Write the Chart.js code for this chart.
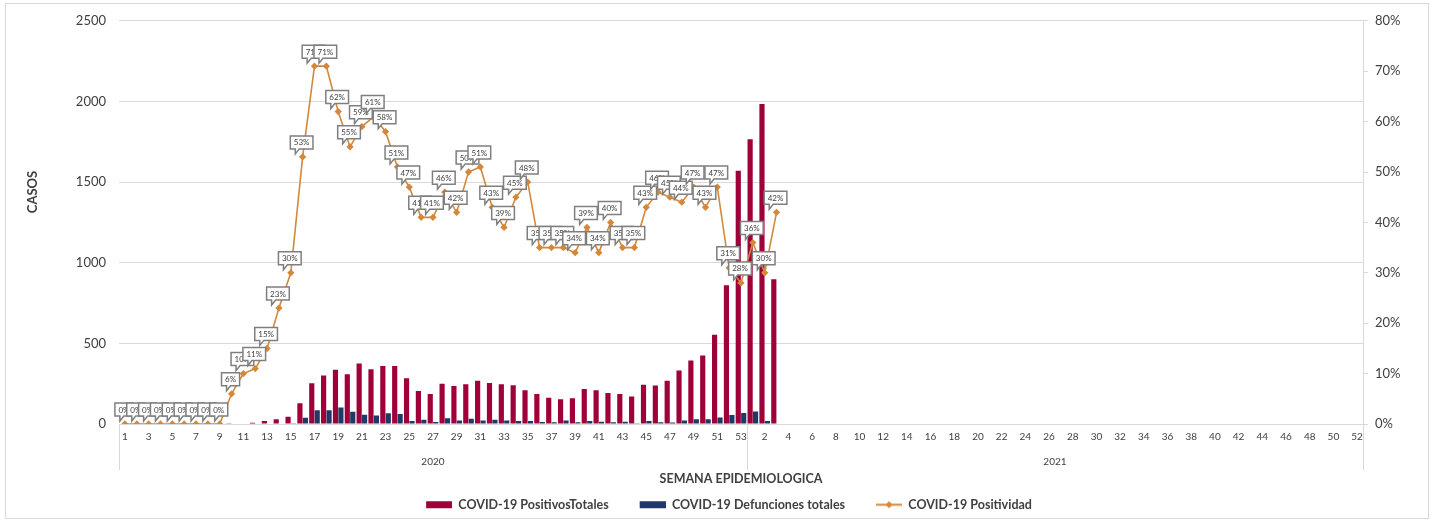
<!DOCTYPE html>
<html>
<head>
<meta charset="utf-8">
<script src="https://cdn.jsdelivr.net/npm/chart.js@4/dist/chart.umd.min.js"></script>
<style>
  html, body { margin: 0; padding: 0; background: #fff; }
  #wrap { position: relative; width: 1433px; height: 521px; }
  #frame { position: absolute; left: 5px; top: 3px; width: 1422px; height: 514px; border: 1px solid #d9d9d9; pointer-events: none; }
</style>
</head>
<body>
<div id="wrap">
  <canvas id="chart" width="1433" height="521"></canvas>
  <div id="frame"></div>
</div>
<script>
// Weekly COVID-19 cases, deaths and positivity (epidemiological weeks 2020-2021)

const years = ['2020', '2021'];
const weeks2020 = [1,2,3,4,5,6,7,8,9,10,11,12,13,14,15,16,17,18,19,20,21,22,23,24,25,26,27,
  28,29,30,31,32,33,34,35,36,37,38,39,40,41,42,43,44,45,46,47,48,49,50,51,52,53];
const weeks2021 = [1,2,3,4,5,6,7,8,9,10,11,12,13,14,15,16,17,18,19,20,21,22,23,24,25,26,
  27,28,29,30,31,32,33,34,35,36,37,38,39,40,41,42,43,44,45,46,47,48,49,50,51,52];

// COVID-19 PositivosTotales
const positivos2020 = [0,0,0,0,0,0,0,0,0,1,3,7,18,29,45,128,252,301,336,309,375,340,360,360,284,205,186,
  250,235,246,268,254,246,241,209,186,162,153,160,217,209,192,186,170,244,238,268,332,393,424,553,860,1570];
const positivos2021 = [1765,1984,898];

// COVID-19 Defunciones totales
const defunciones2020 = [0,0,0,0,0,0,0,0,0,0,0,0,0,0,5,38,86,86,102,76,58,52,66,62,18,27,12,
  35,22,33,22,27,22,18,18,13,11,22,11,18,14,11,14,5,18,11,9,22,29,29,41,56,68];
const defunciones2021 = [78,18,0];

// COVID-19 Positividad (%)
const positividad2020 = [0,0,0,0,0,0,0,0,0,6,10,11,15,23,30,53,71,71,62,55,59,61,58,51,47,41,41,
  46,42,50,51,43,39,45,48,35,35,35,34,39,34,40,35,35,43,46,45,44,47,43,47,31,28];
const positividad2021 = [36,30,42];

const labels = weeks2020.concat(weeks2021).map(String);
const pad = (arr) => arr.concat(new Array(weeks2021.length - arr.length).fill(null));
const positivos = positivos2020.concat(pad(positivos2021));
const defunciones = defunciones2020.concat(pad(defunciones2021));
const positividad = positividad2020.concat(pad(positividad2021));

const RED = '#a0003a';
const BLUE = '#1f3a68';
const ORANGE = '#d4883a';
const TEXT = '#404040';
const GRID = '#d9d9d9';
const FONT = 'Lato';

// legend swatches (transparent left part gives the wider gap between items)
function swatch(color, kind) {
  const c = document.createElement('canvas');
  c.width = 51; c.height = 9;
  const g = c.getContext('2d');
  const x0 = 25;
  if (kind === 'box') {
    g.fillStyle = color;
    g.fillRect(x0, 1, 26, 7);
  } else {
    g.strokeStyle = color;
    g.lineWidth = 2;
    g.beginPath(); g.moveTo(x0, 4.5); g.lineTo(x0 + 26, 4.5); g.stroke();
    g.fillStyle = color;
    g.beginPath(); g.moveTo(x0 + 13, 1); g.lineTo(x0 + 16.5, 4.5); g.lineTo(x0 + 13, 8); g.lineTo(x0 + 9.5, 4.5); g.closePath(); g.fill();
  }
  return c;
}
const swatches = [swatch(RED, 'box'), swatch(BLUE, 'box'), swatch(ORANGE, 'line')];

// callout boxes with the % value above each positivity point
const calloutPlugin = {
  id: 'callouts',
  afterDatasetsDraw(chart) {
    const meta = chart.getDatasetMeta(2);
    const ctx = chart.ctx;
    ctx.save();
    ctx.font = '8px ' + FONT;
    ctx.textAlign = 'center';
    ctx.textBaseline = 'middle';
    meta.data.forEach((pt, i) => {
      const v = positividad[i];
      if (v == null) return;
      const text = v + '%';
      const w = ctx.measureText(text).width + 7;
      const h = 13;
      const cx = pt.x - 1;
      const bottom = pt.y - 8;
      const left = cx - w / 2;
      const top = bottom - h;
      ctx.beginPath();
      ctx.moveTo(left, top);
      ctx.lineTo(left + w, top);
      ctx.lineTo(left + w, bottom);
      ctx.lineTo(left + 9, bottom);
      ctx.lineTo(left + 5, bottom + 5);
      ctx.lineTo(left + 5, bottom);
      ctx.lineTo(left, bottom);
      ctx.closePath();
      ctx.fillStyle = '#fff';
      ctx.fill();
      ctx.strokeStyle = '#7f7f7f';
      ctx.lineWidth = 1.5;
      ctx.stroke();
      ctx.fillStyle = TEXT;
      ctx.fillText(text, cx, top + h / 2 + 0.5);
    });
    ctx.restore();
  }
};

// year group labels, separators and the vertical "CASOS" title
const groupPlugin = {
  id: 'groups',
  afterDraw(chart) {
    const xs = chart.scales.x;
    const ctx = chart.ctx;
    const half = (xs.getPixelForValue(1) - xs.getPixelForValue(0)) / 2;
    const bounds = [xs.left, xs.getPixelForValue(weeks2020.length - 1) + half, xs.right];
    ctx.save();
    ctx.strokeStyle = GRID;
    ctx.lineWidth = 1;
    bounds.forEach(b => {
      const x = Math.round(b) + 0.5;
      ctx.beginPath(); ctx.moveTo(x, xs.top); ctx.lineTo(x, 470); ctx.stroke();
    });
    ctx.fillStyle = TEXT;
    ctx.font = '10px ' + FONT;
    ctx.textAlign = 'center';
    ctx.textBaseline = 'middle';
    ctx.fillText(years[0], (bounds[0] + bounds[1]) / 2, 462);
    ctx.fillText(years[1], (bounds[1] + bounds[2]) / 2, 462);
    ctx.font = 'bold 13px ' + FONT;
    ctx.translate(33, 192);
    ctx.rotate(-Math.PI / 2);
    ctx.fillText('CASOS', 0, 0);
    ctx.restore();
  }
};

const ctx = document.getElementById('chart').getContext('2d');
new Chart(ctx, {
  data: {
    labels,
    datasets: [
      {
        type: 'bar',
        label: 'COVID-19 PositivosTotales',
        data: positivos,
        backgroundColor: RED,
        yAxisID: 'y',
        categoryPercentage: 0.92,
        barPercentage: 0.95,
        order: 1
      },
      {
        type: 'bar',
        label: 'COVID-19 Defunciones totales',
        data: defunciones,
        backgroundColor: BLUE,
        yAxisID: 'y',
        categoryPercentage: 0.92,
        barPercentage: 0.95,
        order: 1
      },
      {
        type: 'line',
        label: 'COVID-19 Positividad',
        data: positividad,
        borderColor: ORANGE,
        backgroundColor: ORANGE,
        borderWidth: 1.6,
        pointStyle: 'rectRot',
        pointRadius: 2.5,
        pointBackgroundColor: ORANGE,
        pointBorderColor: ORANGE,
        tension: 0,
        spanGaps: false,
        yAxisID: 'y1',
        order: 0
      }
    ]
  },
  options: {
    responsive: false,
    animation: false,
    layout: { padding: { top: 17, left: 0, right: 0, bottom: 0 } },
    plugins: {
      tooltip: { enabled: false },
      legend: {
        position: 'bottom',
        labels: {
          usePointStyle: true,
          pointStyleWidth: 51,
          padding: 6,
          color: TEXT,
          font: { family: FONT, size: 12.5, weight: 'bold' },
          sort: (a, b) => a.datasetIndex - b.datasetIndex,
          generateLabels(chart) {
            const items = Chart.defaults.plugins.legend.labels.generateLabels(chart);
            items.forEach(it => { it.pointStyle = swatches[it.datasetIndex]; });
            return items;
          }
        }
      }
    },
    scales: {
      x: {
        offset: true,
        grid: { display: false, drawTicks: false },
        border: { display: true, color: GRID },
        ticks: {
          autoSkip: false,
          maxRotation: 0,
          padding: 7,
          color: TEXT,
          font: { family: FONT, size: 10 },
          callback: (v, i) => (i % 2 === 0 ? labels[i] : '')
        },
        title: {
          display: true,
          text: 'SEMANA EPIDEMIOLOGICA',
          color: TEXT,
          font: { family: FONT, size: 12.5, weight: 'bold' },
          padding: { top: 0, bottom: 6 }
        },
        afterFit: s => { s.height = 68.5; }
      },
      y: {
        position: 'left',
        min: 0,
        max: 2500,
        ticks: { stepSize: 500, padding: 13, color: TEXT, font: { family: FONT, size: 13 }, callback: v => String(v) },
        grid: { color: GRID, drawTicks: false },
        border: { display: false },
        afterFit: s => { s.width = 119; }
      },
      y1: {
        position: 'right',
        min: 0,
        max: 80,
        ticks: { stepSize: 10, padding: 7, color: TEXT, font: { family: FONT, size: 13 }, callback: v => v + '%' },
        grid: { drawOnChartArea: false, tickLength: 5, color: GRID },
        border: { display: true, color: GRID },
        afterFit: s => { s.width = 70; }
      }
    }
  },
  plugins: [calloutPlugin, groupPlugin]
});
</script>
</body>
</html>
